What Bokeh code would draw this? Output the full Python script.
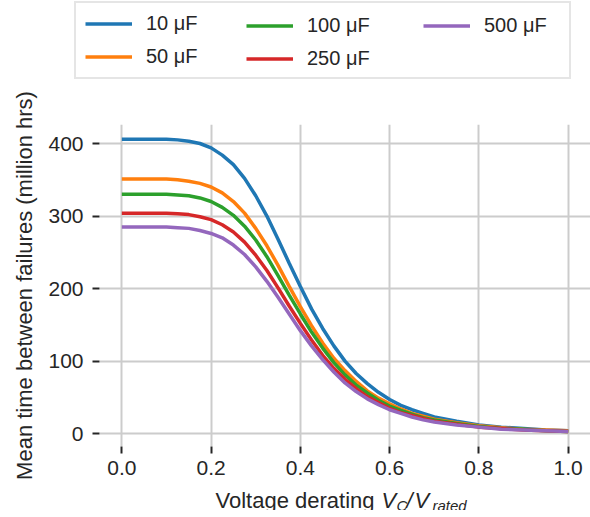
from bokeh.plotting import figure
from bokeh.layouts import column, row
from bokeh.models import (Range1d, FixedTicker, Legend, LegendItem, Label,
                          PrintfTickFormatter)
from bokeh.embed import file_html
from bokeh.resources import INLINE

# ---------------- data ----------------
derating = [0, 0.05, 0.1, 0.125, 0.15, 0.175, 0.2, 0.225, 0.25, 0.275, 0.3,
            0.325, 0.35, 0.375, 0.4, 0.425, 0.45, 0.475, 0.5, 0.525, 0.55,
            0.575, 0.6, 0.625, 0.65, 0.675, 0.7, 0.75, 0.8, 0.85, 0.9, 0.95, 1.0]

mtbf_10uF = [406, 406, 406, 405, 403, 400, 394, 384, 371, 352, 328, 300, 268,
             235, 203, 172, 145, 121, 100, 83, 69, 57, 47, 39, 33, 28, 23, 17,
             12, 9, 7, 5, 4]
mtbf_50uF = [351, 351, 351, 350, 348, 345, 340, 332, 320, 304, 283, 259, 232,
             203, 175, 149, 125, 104, 87, 72, 59, 49, 41, 34, 28, 24, 20, 15,
             11, 8, 6, 5, 4]
mtbf_100uF = [330, 330, 330, 329, 328, 325, 320, 312, 301, 286, 267, 244, 218,
              191, 165, 140, 118, 98, 81, 67, 56, 46, 38, 32, 27, 22, 19, 14,
              10, 7, 6, 4, 3]
mtbf_250uF = [304, 304, 304, 303, 302, 299, 295, 288, 278, 264, 246, 225, 201,
              176, 152, 129, 108, 90, 75, 62, 51, 43, 35, 29, 25, 21, 17, 13,
              9, 7, 5, 4, 3]
mtbf_500uF = [285, 285, 285, 284, 283, 280, 276, 270, 260, 247, 230, 210, 188,
              165, 142, 121, 102, 85, 70, 58, 48, 40, 33, 28, 23, 19, 16, 12,
              9, 6, 5, 4, 3]

series_labels = ["10 μF", "50 μF", "100 μF", "250 μF", "500 μF"]
series_values = [mtbf_10uF, mtbf_50uF, mtbf_100uF, mtbf_250uF, mtbf_500uF]
series_colors = ["#1f77b4", "#ff7f0e", "#2ca02c", "#d62728", "#9467bd"]

x_ticks = [0.0, 0.2, 0.4, 0.6, 0.8, 1.0]
y_ticks = [0, 100, 200, 300, 400]

# ---------------- layout constants ----------------
FONT = "Liberation Sans"
INK = "#262626"
W, H = 590, 517
TOP_H = 85                     # legend strip
FL, FR = 99, 590               # frame left/right (canvas px)
FT, FB = 124, 446              # frame top/bottom (canvas px)
BOT_BORDER = 50
MAIN_BOTTOM = FB + BOT_BORDER  # nominal canvas y where the main figure ends
LAB_TOP = FB                   # label strip overlaps the axis area (transparent)
EXTRA = 7                      # extra height the main figure takes below
LAB_H = H - LAB_TOP - EXTRA
LINE_W = 3.5
NAN = float("nan")


def blank_fig(h, transparent=False):
    f = figure(width=W, height=h, x_range=Range1d(0, W),
               y_range=Range1d(h, 0), min_border=0, title=None,
               x_axis_type=None, y_axis_type=None,
               output_backend="svg", toolbar_location=None,
               background_fill_color="white", border_fill_color="white")
    f.outline_line_color = None
    f.xgrid.visible = False
    f.ygrid.visible = False
    if transparent:
        f.background_fill_alpha = 0
        f.border_fill_alpha = 0
    return f


# ---------------- main plot ----------------
p = figure(frame_width=FR - FL, frame_height=FB - FT,
           min_border_left=FL, min_border_right=W - FR,
           min_border_top=FT - TOP_H, min_border_bottom=BOT_BORDER,
           x_range=Range1d(-0.05, 1.05), y_range=Range1d(-17.7, 426.2),
           output_backend="svg", toolbar_location=None, title=None,
           background_fill_color="white", border_fill_color="white")
p.outline_line_color = None

for vals, col in zip(series_values, series_colors):
    p.line(derating, vals, line_color=col, line_width=LINE_W)

for ax in (p.xaxis[0], p.yaxis[0]):
    ax.axis_line_color = None
    ax.major_tick_out = 7
    ax.major_tick_in = 0
    ax.minor_tick_line_color = None
    ax.major_tick_line_color = INK
    ax.major_tick_line_width = 2
    ax.major_label_text_font = FONT
    ax.major_label_text_font_size = "21px"
    ax.major_label_text_color = INK

p.xaxis.ticker = FixedTicker(ticks=x_ticks)
p.yaxis.ticker = FixedTicker(ticks=y_ticks)
p.xaxis.formatter = PrintfTickFormatter(format="%.1f")
p.yaxis.formatter = PrintfTickFormatter(format="%d")
p.xaxis.major_label_standoff = 7
p.xaxis.axis_label_standoff = 0
p.yaxis.major_label_standoff = 9

p.yaxis.axis_label = "Mean time between failures (million hrs)"
p.yaxis.axis_label_text_font = FONT
p.yaxis.axis_label_text_font_size = "22px"
p.yaxis.axis_label_text_font_style = "normal"
p.yaxis.axis_label_text_color = INK
p.yaxis.axis_label_standoff = 8

for g in (p.xgrid, p.ygrid):
    g.grid_line_color = "#cccccc"
    g.grid_line_width = 2
p.xgrid.ticker = FixedTicker(ticks=x_ticks)
p.ygrid.ticker = FixedTicker(ticks=y_ticks)

# ---------------- legend strip (three columns) ----------------
top = blank_fig(TOP_H)
swatches = [top.line([0, 1], [NAN, NAN], line_color=col, line_width=LINE_W)
            for col in series_colors]
items = [LegendItem(label=lab, renderers=[r])
         for lab, r in zip(series_labels, swatches)]


def make_legend(its, loc, bordered, label_width):
    leg = Legend(items=its, location=loc, orientation="vertical",
                 label_text_font=FONT, label_text_font_size="20px",
                 label_text_color=INK, glyph_width=47, glyph_height=23,
                 label_height=23, label_standoff=14, label_width=label_width,
                 spacing=10, padding=9, margin=0)
    if bordered:
        leg.border_line_color = "#cccccc"
        leg.border_line_width = 2
        leg.background_fill_color = "white"
        leg.background_fill_alpha = 1.0
    else:
        leg.border_line_color = None
        leg.background_fill_alpha = 0.0
    return leg


# locations: (left, bottom) measured from the strip's bottom-left corner;
# the unbordered legends carry no padding
top.add_layout(make_legend(items[0:2], (74, TOP_H - 79), True, 414))
top.add_layout(make_legend(items[2:4], (246, TOP_H - 70), False, 20))
top.add_layout(make_legend(items[4:5], (423, TOP_H - 37), False, 20))

# ---------------- x-axis label strip (pulled up over the axis area) ----------
bot = blank_fig(LAB_H, transparent=True)
strip_top = LAB_TOP + EXTRA
pieces = [("Voltage derating", 215, 507, "22px", "normal"),
          ("V", 381, 507, "22px", "italic"),
          ("C", 396, 512, "15px", "italic"),
          ("/", 406, 507, "22px", "italic"),
          ("V", 414, 507, "22px", "italic"),
          ("rated", 432, 512, "15px", "italic")]
for txt, px, py, fs, st in pieces:
    bot.add_layout(Label(x=px, y=py - strip_top, text=txt, text_font=FONT,
                         text_font_size=fs, text_font_style=st,
                         text_color=INK, text_baseline="alphabetic",
                         text_align="left"))

layout = column(row(top), p,
                row(bot, margin=(LAB_TOP - MAIN_BOTTOM, 0, 0, 0)),
                spacing=0)
open("out.html", "w").write(file_html(layout, INLINE))
